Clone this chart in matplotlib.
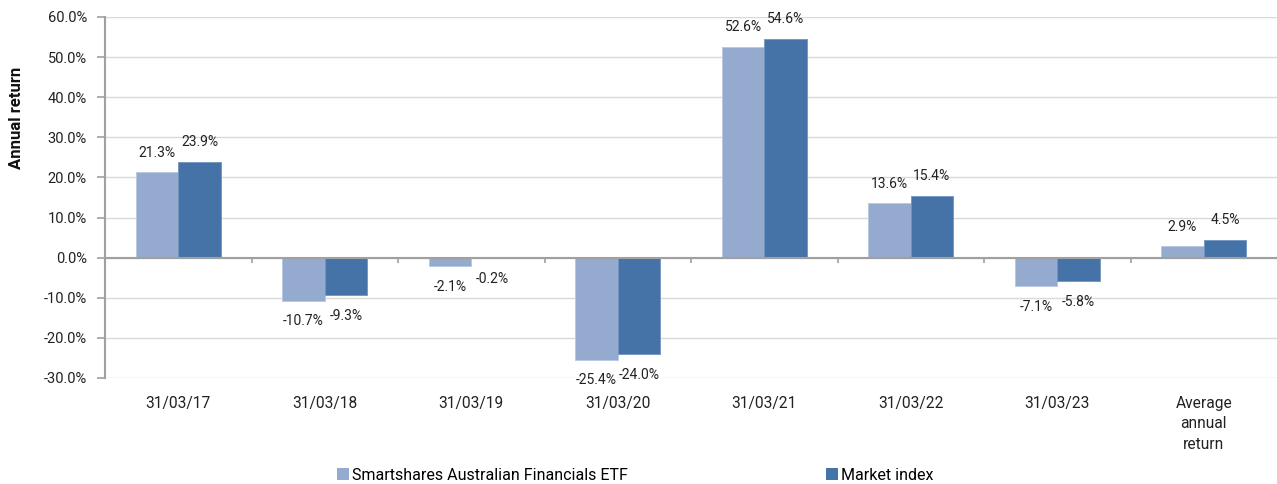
import matplotlib
matplotlib.use("Agg")
import matplotlib.pyplot as plt
import numpy as np
from matplotlib.patches import Patch

categories = ["31/03/17", "31/03/18", "31/03/19", "31/03/20", "31/03/21", "31/03/22", "31/03/23",
              "Average\nannual\nreturn"]
etf_values = [21.3, -10.7, -2.1, -25.4, 52.6, 13.6, -7.1, 2.9]
index_values = [23.9, -9.3, -0.2, -24.0, 54.6, 15.4, -5.8, 4.5]
series_names = ["Smartshares Australian Financials ETF", "Market index"]
yticks = [-30, -20, -10, 0, 10, 20, 30, 40, 50, 60]

plt.rcParams['font.family'] = ['Roboto', 'DejaVu Sans']

c_light = "#95AACF"
c_dark = "#4573A7"

fig = plt.figure(figsize=(12.77, 4.84), dpi=100)
ax = fig.add_axes([105/1277, 1 - 378/484, (1277 - 105)/1277, (378 - 17)/484])

x = np.arange(len(categories))
w = 0.29
b1 = ax.bar(x - w/2, etf_values, w, color=c_light, edgecolor="#B8C7E0", linewidth=0.6, zorder=3)
b2 = ax.bar(x + w/2, index_values, w, color=c_dark, edgecolor="#6F93BF", linewidth=0.6, zorder=3)

for bars, vals in ((b1, etf_values), (b2, index_values)):
    for r, v in zip(bars, vals):
        off = 14 if v >= 0 else -15
        ax.annotate(f"{v:.1f}%", (r.get_x() + r.get_width()/2, v), xytext=(0, off),
                    textcoords="offset points", ha="center", va="center",
                    fontsize=10, color="#222222", zorder=5)

ax.set_xlim(-0.5, len(categories) - 0.5)
ax.set_ylim(-30, 60)
ax.set_yticks(yticks)
ax.set_yticklabels([f"{t:.1f}%" for t in yticks], fontsize=10.5, color="#222222")
ax.grid(axis="y", color="#D9D9D9", linewidth=1.0, zorder=0)
ax.set_axisbelow(True)

for s in ("top", "right", "bottom"):
    ax.spines[s].set_visible(False)
ax.spines["left"].set_color("#A0A0A0")
ax.spines["left"].set_linewidth(1.5)
ax.tick_params(axis="y", length=6, width=1.2, color="#A0A0A0", pad=7)

ax.set_xticks(x)
ax.set_xticklabels(categories, fontsize=11.2, color="#222222", linespacing=1.45, va="top")
ax.tick_params(axis="x", length=0, pad=13)

# zero axis line with category boundary ticks
ax.axhline(0, color="#A0A0A0", linewidth=1.5, zorder=4)
bounds = np.arange(len(categories) + 1) - 0.5
ax.vlines(bounds[1:-1], -1.3, 0, color="#A0A0A0", linewidth=1.2, zorder=4)

fig.text(17/1277, 1 - 118/484, "Annual return", rotation=90, ha="center", va="center",
         fontsize=12, fontweight="bold", color="#111111")

handles = [Patch(facecolor=c_light, edgecolor="none"), Patch(facecolor=c_dark, edgecolor="none")]
fig.legend(handles, series_names, loc="center left", bbox_to_anchor=(337/1277, 1 - 475/484),
           ncol=2, frameon=False, fontsize=11.5, handlelength=0.75, handleheight=0.75,
           handletextpad=0.2, columnspacing=12.4, borderpad=0, borderaxespad=0)

fig.savefig("out.png", dpi=100)
